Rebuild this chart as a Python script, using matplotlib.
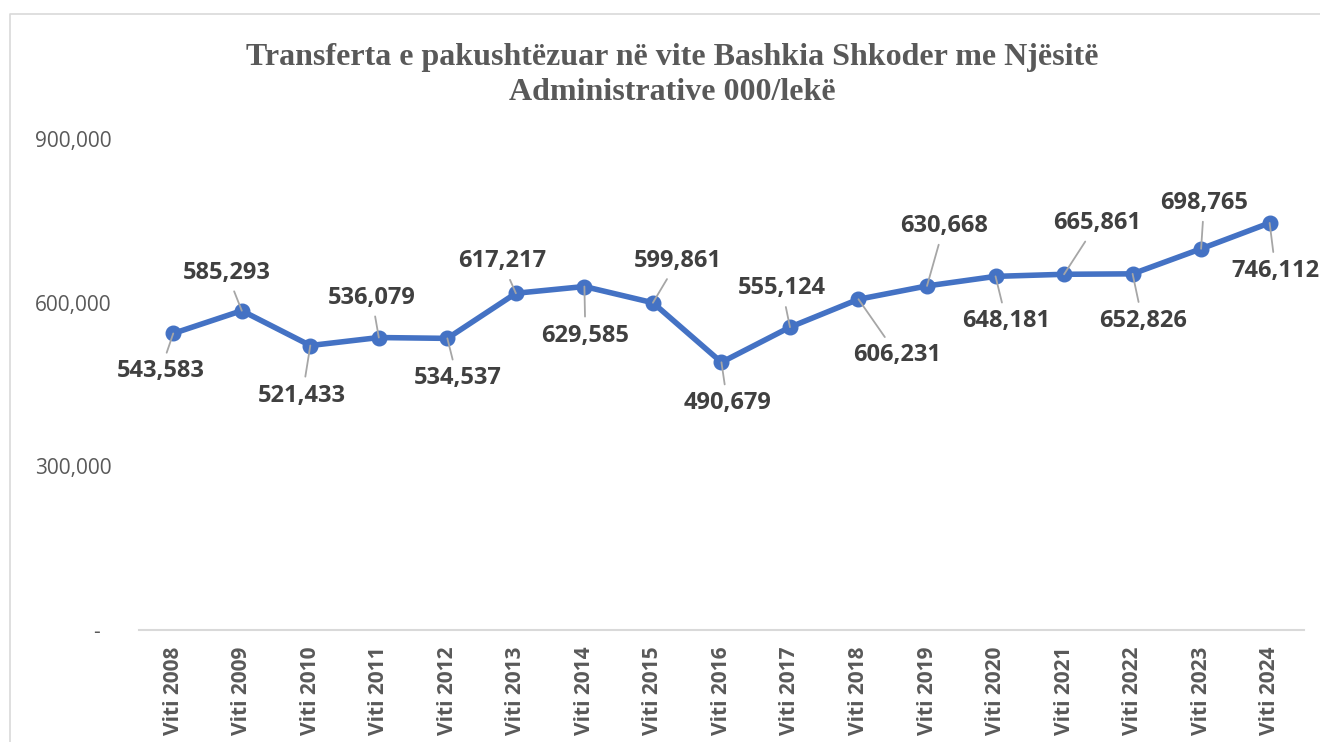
import matplotlib
matplotlib.use("Agg")
import matplotlib.pyplot as plt
from matplotlib.ticker import FuncFormatter
from matplotlib.lines import Line2D

# dados
anos = ["Viti 2008", "Viti 2009", "Viti 2010", "Viti 2011", "Viti 2012", "Viti 2013",
        "Viti 2014", "Viti 2015", "Viti 2016", "Viti 2017", "Viti 2018", "Viti 2019",
        "Viti 2020", "Viti 2021", "Viti 2022", "Viti 2023", "Viti 2024"]
# valores das etiquetas
rotulos = [543583, 585293, 521433, 536079, 534537, 617217, 629585, 599861, 490679,
           555124, 606231, 630668, 648181, 665861, 652826, 698765, 746112]
# valores desenhados (o ponto de 2021 no grafico fica ao nivel de 2022)
valores = [543583, 585293, 521433, 536079, 534537, 617217, 629585, 599861, 490679,
           555124, 606231, 630668, 648181, 652000, 652826, 698765, 746112]
# posicao das etiquetas (pixels, relativo ao ponto)
dx = [-13, -15, -8, -7, 10, -14, 1, 25, 6, -8, 39, 17, 11, 33, 10, 3, 6]
dy = [-38, 38, -50, 40, -40, 32, -49, 42, -41, 39, -56, 60, -45, 51, -47, 46, -48]

azul = "#4472C4"
cinza = "#595959"

fig = plt.figure(figsize=(13.2, 7.42), dpi=100)
ax = fig.add_axes([0.1053, 0.1509, 0.8825, 0.6618])

x = list(range(len(anos)))
ax.plot(x, valores, color=azul, linewidth=4, marker="o", markersize=10.5,
        solid_capstyle="round", zorder=2)

for i in x:
    ax.annotate(f"{rotulos[i]:,}", xy=(i, valores[i]), xytext=(dx[i], dy[i]),
                textcoords="offset pixels", ha="center", va="center",
                fontsize=17, fontweight="bold", color="#404040", family="Open Sans",
                arrowprops=dict(arrowstyle="-", color="#A6A6A6", lw=1.3,
                                shrinkA=3, shrinkB=0),
                zorder=3)

ax.set_xlim(-0.5, len(anos) - 0.5)
ax.set_ylim(0, 900000)
ax.set_yticks([0, 300000, 600000, 900000])
ax.yaxis.set_major_formatter(FuncFormatter(lambda v, p: "-  " if v == 0 else f"{int(v):,}"))
ax.set_xticks(x)
ax.set_xticklabels(anos, rotation=90, fontsize=15, fontweight="bold",
                   color=cinza, family="Open Sans", va="top")
for t in ax.get_yticklabels():
    t.set_fontsize(15)
    t.set_color(cinza)
    t.set_family("Open Sans")
ax.tick_params(axis="y", length=0, pad=20)
ax.tick_params(axis="x", length=0, pad=12)

for s in ["left", "right", "top"]:
    ax.spines[s].set_visible(False)
ax.spines["bottom"].set_color("#D9D9D9")
ax.spines["bottom"].set_linewidth(1.5)

fig.text(0.509, 0.899, "Transferta e pakushtëzuar në vite Bashkia Shkoder me Njësitë\nAdministrative 000/lekë",
         ha="center", va="center", fontsize=23, fontweight="bold", color=cinza,
         family="Liberation Serif", linespacing=1.3)

# borda do grafico
fig.add_artist(Line2D([10 / 1320, 10 / 1320, 1.0], [0.0, 1 - 14 / 742, 1 - 14 / 742],
                      transform=fig.transFigure, color="#D9D9D9", linewidth=1.2))

fig.savefig("out.png", dpi=100)
